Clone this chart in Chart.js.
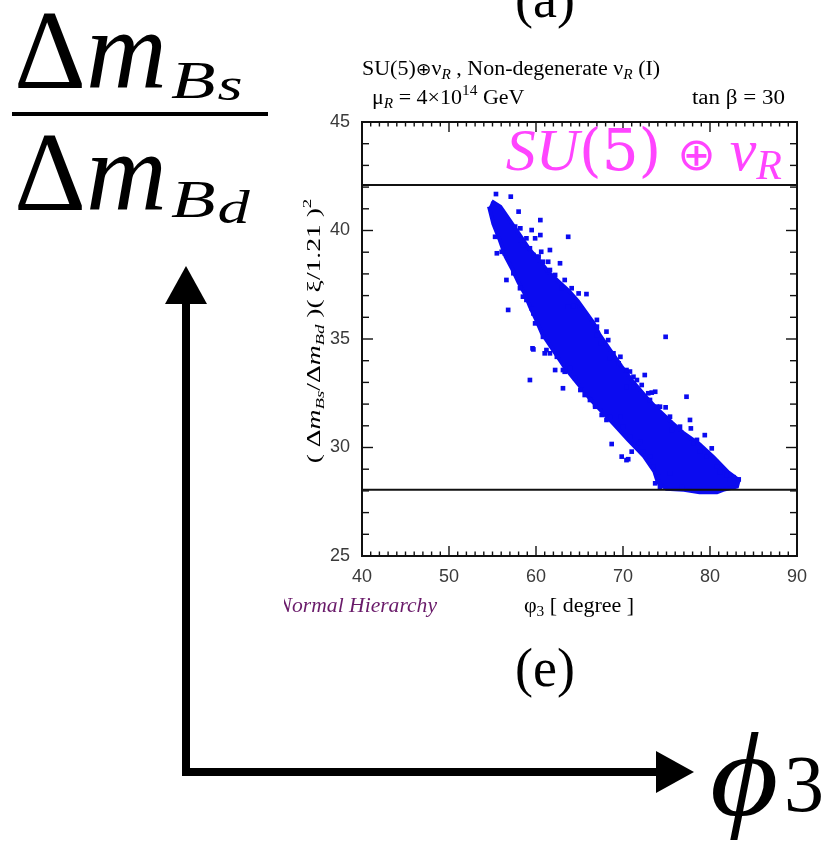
<!DOCTYPE html>
<html>
<head>
<meta charset="utf-8">
<script src="https://cdn.jsdelivr.net/npm/chart.js@4.4.1/dist/chart.umd.min.js"></script>
<style>
  html, body { margin: 0; padding: 0; background: #fff; }
  canvas { display: block; }
</style>
</head>
<body>
<canvas id="mycanvas" width="827" height="842"></canvas>
<script>
// axis ticks
var xTicks = [40, 50, 60, 70, 80, 90];
var yTicks = [25, 30, 35, 40, 45];
// the two horizontal bounds
var boundLevels = [42.1, 28.05];

// outline of the dense part of the scan
var bandUpperEdge = [
  [54.9, 41.35], [55.9, 41.1], [57.1, 40.4], [58.2, 39.75], [59.2, 39.15], [60.4, 38.6],
  [61.5, 38.05], [62.7, 37.6], [63.8, 37.2], [64.8, 36.75], [65.7, 36.25], [66.6, 35.75],
  [67.3, 35.2], [68.5, 34.5], [69.8, 33.75], [71.2, 33.0], [72.7, 32.3], [74.0, 31.75],
  [75.6, 31.15], [77.0, 30.65], [78.8, 30.15], [80.4, 29.55], [82.1, 28.85], [83.3, 28.5]
];
var bandLowerEdge = [
  [83.1, 28.2], [81.5, 28.05], [80.8, 27.94], [78.8, 27.94], [77.0, 28.05], [75.0, 28.1],
  [74.0, 28.4], [73.6, 28.9], [72.4, 29.6], [70.6, 30.35], [68.9, 31.1], [66.3, 32.2],
  [63.3, 33.7], [60.7, 35.25], [60.0, 35.9], [59.3, 36.5], [58.7, 37.1], [58.0, 37.6],
  [57.3, 38.2], [56.5, 38.8], [55.8, 39.6], [55.1, 40.3], [54.6, 41.1]
];

// single points around the edges of the band
var scatterPoints = [
  [55.4, 41.68], [57.1, 41.56], [58.0, 40.87], [60.5, 40.48], [63.7, 39.71], [59.5, 40.02],
  [58.2, 40.1], [58.9, 39.64], [59.9, 39.64], [60.5, 39.79], [55.5, 38.95], [56.4, 38.95],
  [60.6, 39.02], [61.6, 39.1], [60.8, 38.56], [61.4, 38.56], [62.76, 38.49], [61.6, 38.18],
  [56.6, 37.72], [62.95, 37.34], [64.1, 37.34], [65.8, 37.07], [58.5, 36.95], [59.5, 36.41],
  [56.8, 36.34], [63.7, 36.49], [64.5, 36.49], [57.6, 40.18], [58.5, 39.33], [59.7, 38.87],
  [64.3, 36.52], [67.0, 35.57], [68.1, 35.34], [67.0, 35.18], [68.3, 34.95], [68.9, 34.34],
  [69.7, 34.18], [59.6, 34.57], [61.0, 34.34], [61.6, 34.34], [63.1, 33.57], [63.9, 33.65],
  [63.1, 32.73], [59.3, 33.11], [70.8, 33.5], [72.5, 33.34], [71.6, 33.11], [70.4, 32.8],
  [71.2, 32.8], [72.9, 32.5], [73.7, 32.57], [66.2, 32.19], [66.8, 31.96], [68.5, 31.42],
  [73.1, 32.19], [67.0, 35.88], [67.5, 34.8], [68.5, 34.11], [69.5, 33.88], [70.4, 33.57],
  [71.2, 33.26], [72.15, 32.88], [73.9, 31.88], [59.9, 35.72], [60.8, 35.1], [61.2, 34.49],
  [62.4, 34.18], [62.2, 33.57], [63.3, 33.49], [64.5, 33.19], [65.1, 32.65], [65.6, 32.42],
  [66.8, 31.88], [67.55, 31.5], [77.3, 32.34], [77.7, 31.27], [77.8, 30.88], [79.4, 30.57],
  [80.2, 29.96], [78.1, 30.19], [78.85, 29.81], [71.0, 29.81], [70.4, 29.42], [69.85, 29.58],
  [72.3, 29.81], [72.0, 30.27], [70.0, 30.96], [74.25, 28.17], [76.75, 28.17], [82.3, 28.53],
  [83.3, 28.53], [81.15, 28.88], [75.4, 28.81], [69.7, 31.42], [70.8, 30.5], [71.8, 30.19],
  [73.1, 29.58], [73.5, 29.12], [74.1, 28.65], [73.7, 28.35], [74.9, 35.1], [68.7, 30.16],
  [70.6, 29.46], [68.1, 31.27], [59.7, 34.52], [73.3, 32.53], [74.9, 31.85], [75.6, 30.8],
  [58.2, 39.56], [59.3, 39.18], [60.3, 38.8], [62.2, 37.95], [63.3, 37.72], [64.9, 37.1],
  [55.3, 39.71], [56.06, 39.02], [57.4, 38.03], [58.16, 37.34], [58.9, 36.8], [59.7, 36.18],
  [74.25, 31.88], [75.4, 31.42], [76.55, 30.96], [78.5, 30.35], [79.6, 29.58], [80.8, 29.12],
  [81.9, 28.73], [82.7, 28.63]
];

var BLUE = '#0b0bf0';
var SERIF = '"Liberation Serif", "DejaVu Serif", serif';

function toXY(list) {
  return list.map(function (p) { return { x: p[0], y: p[1] }; });
}

// draw a row of text pieces (for sub/superscripts); sx stretches horizontally
function drawRuns(ctx, x, y, parts, align, color, sx) {
  sx = sx || 1;
  var w = 0;
  parts.forEach(function (p) {
    ctx.font = p.f;
    p.w = ctx.measureText(p.t).width * sx;
    w += p.w + (p.gl || 0) + (p.gr || 0);
  });
  var cx = align === 'right' ? x - w : (align === 'center' ? x - w / 2 : x);
  parts.forEach(function (p) {
    ctx.font = p.f;
    ctx.fillStyle = p.c || color || '#000';
    cx += p.gl || 0;
    ctx.save();
    ctx.translate(cx, y + (p.dy || 0));
    ctx.scale(sx, 1);
    ctx.fillText(p.t, 0, 0);
    ctx.restore();
    cx += p.w + (p.gr || 0);
  });
  return w;
}

function seg(ctx, x1, y1, x2, y2) {
  ctx.beginPath();
  ctx.moveTo(x1, y1);
  ctx.lineTo(x2, y2);
  ctx.stroke();
}

var decor = {
  id: 'decor',
  beforeDraw: function (chart) {
    var ctx = chart.ctx;
    ctx.save();
    ctx.fillStyle = '#fff';
    ctx.fillRect(0, 0, chart.width, chart.height);
    ctx.restore();
  },
  afterDraw: function (chart) {
    var ctx = chart.ctx, a = chart.chartArea;
    var xs = chart.scales.x, ys = chart.scales.y;
    ctx.save();
    ctx.textBaseline = 'alphabetic';

    // frame + inward ticks
    ctx.strokeStyle = '#111';
    ctx.lineWidth = 2;
    ctx.strokeRect(a.left, a.top, a.right - a.left, a.bottom - a.top);
    ctx.lineWidth = 1.4;
    var v, p, len;
    for (v = 41; v < 90; v++) {
      p = xs.getPixelForValue(v);
      len = v % 10 === 0 ? 10 : 4.5;
      seg(ctx, p, a.bottom, p, a.bottom - len);
      seg(ctx, p, a.top, p, a.top + len);
    }
    for (v = 26; v < 45; v++) {
      p = ys.getPixelForValue(v);
      len = v % 5 === 0 ? 11 : 7;
      seg(ctx, a.left, p, a.left + len, p);
      seg(ctx, a.right, p, a.right - len, p);
    }

    var f20 = '20px ' + SERIF, sub = 'italic 14px ' + SERIF;
    // header lines
    drawRuns(ctx, 362, 75, [
      { t: 'SU(5)', f: f20 }, { t: '\u2295', f: '17px "DejaVu Sans"' }, { t: '\u03bd', f: f20 },
      { t: 'R', f: sub, dy: 4 }, { t: ' , Non-degenerate ', f: f20 }, { t: '\u03bd', f: f20 },
      { t: 'R', f: sub, dy: 4 }, { t: ' (I)', f: f20 }
    ], 'left', '#000', 1.1);
    drawRuns(ctx, 372, 104, [
      { t: '\u03bc', f: f20 }, { t: 'R', f: sub, dy: 4 }, { t: ' = 4\u00d710', f: f20 },
      { t: '14', f: '14px ' + SERIF, dy: -9 }, { t: ' GeV', f: f20 }
    ], 'left', '#000', 1.1);
    drawRuns(ctx, 785, 104, [{ t: 'tan \u03b2 = 30', f: f20 }], 'right', '#000', 1.15);

    // magenta label
    drawRuns(ctx, 782, 170, [
      { t: 'SU', f: 'italic 60px ' + SERIF }, { t: '(5)', f: '58px "DejaVu Serif"' },
      { t: '\u2295', f: '46px "DejaVu Sans"', gl: 16, gr: 14 },
      { t: '\u03bd', f: 'italic 60px ' + SERIF }, { t: 'R', f: 'italic 42px ' + SERIF, dy: 9 }
    ], 'right', '#ff44ff');

    // axis titles
    drawRuns(ctx, 579, 612, [
      { t: '\u03c6', f: f20 }, { t: '3', f: '14px ' + SERIF, dy: 4 }, { t: ' [ degree ]', f: f20 }
    ], 'center', '#000', 1.1);
    ctx.save();
    ctx.translate(320, 331);
    ctx.rotate(-Math.PI / 2);
    var f19 = '19px ' + SERIF, it19 = 'italic 19px ' + SERIF, s13 = 'italic 13px ' + SERIF;
    drawRuns(ctx, 0, 0, [
      { t: '( \u0394', f: f19 }, { t: 'm', f: it19 }, { t: 'Bs', f: s13, dy: 4 },
      { t: '/\u0394', f: f19 }, { t: 'm', f: it19 }, { t: 'Bd', f: s13, dy: 4 },
      { t: ' )( \u03be/1.21 )', f: f19 }, { t: '2', f: '13px ' + SERIF, dy: -9 }
    ], 'center', '#000', 1.45);
    ctx.restore();

    // cropped corner text
    ctx.save();
    ctx.beginPath();
    ctx.rect(284, 590, 200, 40);
    ctx.clip();
    drawRuns(ctx, 437, 612, [{ t: 'Normal Hierarchy', f: 'italic 20px ' + SERIF }], 'right', '#6a1b6a', 1.08);
    ctx.restore();

    // panel letters
    drawRuns(ctx, 545, 686, [{ t: '(e)', f: '54px ' + SERIF }], 'center');
    drawRuns(ctx, 545, 17, [{ t: '(a)', f: '54px ' + SERIF }], 'center');

    // big fraction
    var big = '112px ' + SERIF, bigI = 'italic 112px ' + SERIF;
    var w1 = drawRuns(ctx, 14, 88, [{ t: '\u0394', f: big }, { t: 'm', f: bigI }], 'left');
    drawRuns(ctx, 14 + w1 + 4, 88, [
      { t: 'B', f: 'italic 52px ' + SERIF, dy: 10 }, { t: 's', f: 'italic 46px ' + SERIF, dy: 12, gl: 2 }
    ], 'left', '#000', 1.4);
    ctx.fillStyle = '#000';
    ctx.fillRect(12, 112, 256, 4);
    var w2 = drawRuns(ctx, 14, 210, [{ t: '\u0394', f: big }, { t: 'm', f: bigI }], 'left');
    drawRuns(ctx, 14 + w2 + 4, 210, [
      { t: 'B', f: 'italic 52px ' + SERIF, dy: 7 }, { t: 'd', f: 'italic 46px ' + SERIF, dy: 13, gl: 2 }
    ], 'left', '#000', 1.4);

    // big arrows
    ctx.fillStyle = '#000';
    ctx.fillRect(182, 300, 8, 476);
    ctx.fillRect(182, 768, 476, 8);
    ctx.beginPath();
    ctx.moveTo(186, 266); ctx.lineTo(165, 304); ctx.lineTo(207, 304); ctx.closePath();
    ctx.fill();
    ctx.beginPath();
    ctx.moveTo(694, 772); ctx.lineTo(656, 751); ctx.lineTo(656, 793); ctx.closePath();
    ctx.fill();
    drawRuns(ctx, 710, 815, [{ t: '\u03d5', f: 'italic 118px ' + SERIF }], 'left', '#000', 1.12);
    drawRuns(ctx, 784, 811, [{ t: '3', f: '80px ' + SERIF }], 'left');

    ctx.restore();
  }
};

var chartdata = {
  datasets: [
    {
      label: 'upper bound',
      data: toXY([[40, boundLevels[0]], [90, boundLevels[0]]]),
      showLine: true, borderColor: '#111', borderWidth: 2, pointRadius: 0, fill: false
    },
    {
      label: 'lower bound',
      data: toXY([[40, boundLevels[1]], [90, boundLevels[1]]]),
      showLine: true, borderColor: '#111', borderWidth: 2, pointRadius: 0, fill: false
    },
    {
      label: 'scan points',
      data: toXY(scatterPoints),
      pointStyle: 'rect', pointRadius: 3.3, borderWidth: 0,
      backgroundColor: BLUE, borderColor: BLUE
    },
    {
      label: 'dense band',
      data: toXY(bandUpperEdge.concat(bandLowerEdge)),
      showLine: true, fill: 'shape', tension: 0,
      backgroundColor: BLUE, borderColor: BLUE, borderWidth: 4, pointRadius: 0
    }
  ]
};

var ctx = document.getElementById('mycanvas');
var chart = new Chart(ctx, {
  type: 'scatter',
  data: chartdata,
  plugins: [decor],
  options: {
    responsive: false,
    animation: false,
    layout: { padding: { left: 0, top: 122, right: 30, bottom: 246 } },
    plugins: { legend: { display: false }, tooltip: { enabled: false } },
    scales: {
      x: {
        type: 'linear', min: 40, max: 90,
        afterBuildTicks: function (s) { s.ticks = xTicks.map(function (v) { return { value: v }; }); },
        afterFit: function (s) { s.height = 40; },
        ticks: { font: { family: 'Liberation Sans', size: 18 }, color: '#3a3a3a', padding: 10, maxRotation: 0 },
        grid: { display: false, drawTicks: false },
        border: { display: false }
      },
      y: {
        type: 'linear', min: 25, max: 45,
        afterBuildTicks: function (s) { s.ticks = yTicks.map(function (v) { return { value: v }; }); },
        afterFit: function (s) { s.width = 362; },
        ticks: { font: { family: 'Liberation Sans', size: 18 }, color: '#3a3a3a', padding: 12 },
        grid: { display: false, drawTicks: false },
        border: { display: false }
      }
    }
  }
});
</script>
</body>
</html>
